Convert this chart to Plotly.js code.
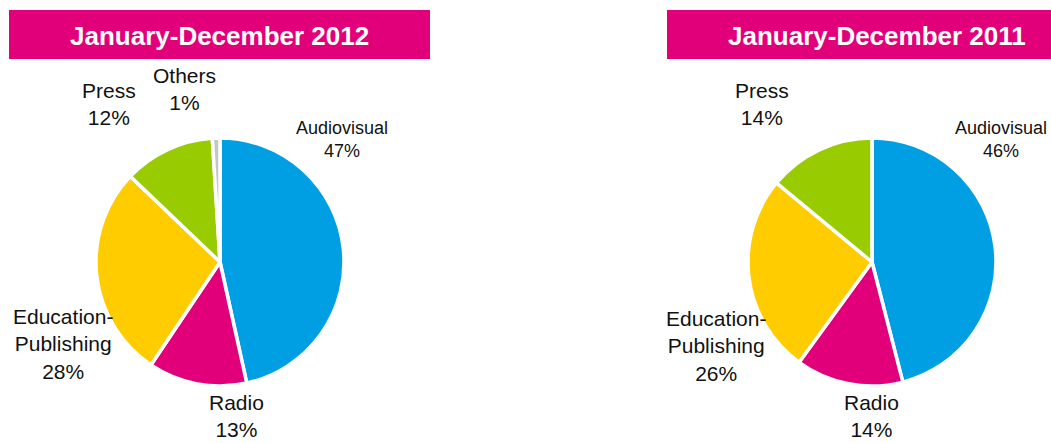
<!DOCTYPE html>
<html>
<head>
<meta charset="utf-8">
<script src="https://cdn.plot.ly/plotly-3.0.1.min.js"></script>
<style>
html,body{margin:0;padding:0;background:#fff;}
#chart{width:1051px;height:443px;}
</style>
</head>
<body>
<div id="chart"></div>
<script>
// ---- data ----
const categories2012 = ['Audiovisual', 'Radio', 'Education-Publishing', 'Press', 'Others'];
const values2012 = [47, 13, 28, 12, 1];
const categories2011 = ['Audiovisual', 'Radio', 'Education-Publishing', 'Press'];
const values2011 = [46, 14, 26, 14];
const title2012 = 'January-December 2012';
const title2011 = 'January-December 2011';
const sliceColors = {
  'Audiovisual': '#009FE3',
  'Radio': '#E2007A',
  'Education-Publishing': '#FFCC00',
  'Press': '#99CC00',
  'Others': '#C6C6C6'
};

// ---- layout helpers ----
const W = 1051, H = 443;
const px = x => x / W;
const py = y => 1 - y / H;

// label anchor points (pixels) and font sizes for each pie
const labelPos2012 = {
  'Audiovisual': [342, 139, 18],
  'Radio': [236, 416, 21],
  'Education-Publishing': [63, 344, 21],
  'Press': [109, 104, 21],
  'Others': [184, 89, 21]
};
const labelPos2011 = {
  'Audiovisual': [1001, 140, 18],
  'Radio': [871, 416, 21],
  'Education-Publishing': [716, 346, 21],
  'Press': [762, 104, 21]
};

function pieTrace(cats, vals, dom) {
  return {
    type: 'pie',
    labels: cats,
    values: vals,
    sort: false,
    direction: 'clockwise',
    rotation: 0,
    textinfo: 'none',
    hoverinfo: 'none',
    showlegend: false,
    marker: {colors: cats.map(c => sliceColors[c]), line: {color: '#ffffff', width: 3.5}},
    domain: dom
  };
}

function labelAnnotations(cats, vals, pos) {
  const total = vals.reduce((a, b) => a + b, 0);
  return cats.map((c, i) => {
    const p = pos[c];
    const pct = Math.round(vals[i] / total * 100);
    return {
      xref: 'paper', yref: 'paper',
      x: px(p[0]), y: py(p[1]),
      xanchor: 'center', yanchor: 'middle',
      showarrow: false,
      text: c.replace('-', '-<br>') + '<br>' + pct + '%',
      font: {family: 'Liberation Sans, Arial, sans-serif', size: p[2], color: '#111111'},
      align: 'center'
    };
  });
}

const data = [
  pieTrace(categories2012, values2012, {x: [px(96), px(344)], y: [py(386), py(138)]}),
  pieTrace(categories2011, values2011, {x: [px(748), px(996)], y: [py(386), py(138)]})
];

const titleFont = {family: 'Liberation Sans, Arial, sans-serif', size: 26, color: '#ffffff', weight: 'bold'};

const layout = {
  width: W, height: H,
  margin: {l: 0, r: 0, t: 0, b: 0},
  paper_bgcolor: '#ffffff',
  plot_bgcolor: '#ffffff',
  shapes: [
    {type: 'rect', xref: 'paper', yref: 'paper', x0: px(9), x1: px(430), y0: py(59), y1: py(10),
     fillcolor: '#E2007A', line: {width: 0}, layer: 'below'},
    {type: 'rect', xref: 'paper', yref: 'paper', x0: px(667), x1: px(1051), y0: py(59), y1: py(10),
     fillcolor: '#E2007A', line: {width: 0}, layer: 'below'}
  ],
  annotations: [
    {xref: 'paper', yref: 'paper', x: px(219), y: py(36), xanchor: 'center', yanchor: 'middle',
     showarrow: false, text: '<b>' + title2012 + '</b>', font: titleFont},
    {xref: 'paper', yref: 'paper', x: px(877), y: py(36), xanchor: 'center', yanchor: 'middle',
     showarrow: false, text: '<b>' + title2011 + '</b>', font: titleFont}
  ].concat(labelAnnotations(categories2012, values2012, labelPos2012))
   .concat(labelAnnotations(categories2011, values2011, labelPos2011))
};

Plotly.newPlot('chart', data, layout, {staticPlot: true, displayModeBar: false});
</script>
</body>
</html>
